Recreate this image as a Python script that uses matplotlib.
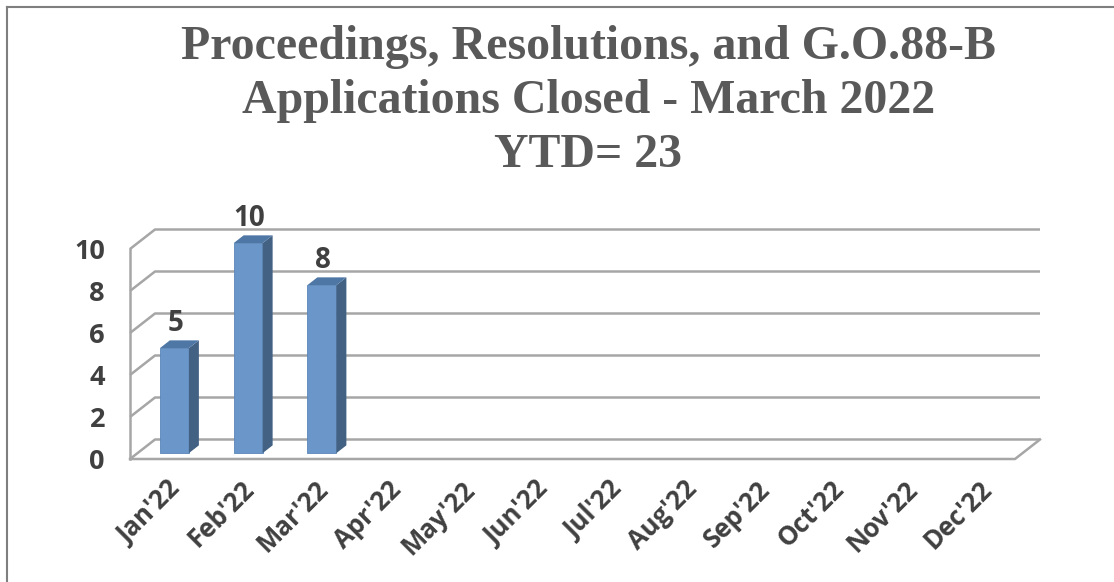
import numpy as np
import matplotlib.pyplot as plt
import matplotlib.transforms as mtransforms
from matplotlib.patches import Polygon
from matplotlib.lines import Line2D

# Monthly closed counts
months = ["Jan'22", "Feb'22", "Mar'22", "Apr'22", "May'22", "Jun'22",
          "Jul'22", "Aug'22", "Sep'22", "Oct'22", "Nov'22", "Dec'22"]
closed = [5, 10, 8]
y_ticks = [0, 2, 4, 6, 8, 10]
title_lines = ["Proceedings, Resolutions, and G.O.88-B",
               "Applications Closed - March 2022",
               "YTD= 23"]

W, H = 1114, 582
fig = plt.figure(figsize=(W / 100, H / 100), dpi=100)

# plot box (front face of the pseudo-3D floor/wall) in pixels
x0_px, x1_px = 130, 1015
y0_px, y1_px = 459, 249
ax = fig.add_axes([x0_px / W, 1 - y0_px / H, (x1_px - x0_px) / W, (y0_px - y1_px) / H])
n = len(months)
ax.set_xlim(-0.5, n - 0.5)
ax.set_ylim(0, 10)

px_x = n / (x1_px - x0_px)     # data units per pixel, x
px_y = 10 / (y0_px - y1_px)    # data units per pixel, y
ddx = 25 * px_x                # depth offset
ddy = 19.5 * px_y

grid_c = '#a6a6a6'
glw = 1.8
xl, xr = -0.5, n - 0.5

# left wall + back wall gridlines
for v in y_ticks:
    ax.plot([xl, xl + ddx, xr + ddx], [v, v + ddy, v + ddy],
            color=grid_c, lw=glw, clip_on=False, solid_capstyle='butt')
# floor front edge, right edge, left vertical edge
ax.plot([xl, xr, xr + ddx], [0, 0, ddy], color=grid_c, lw=glw, clip_on=False)
ax.plot([xl, xl], [0, 10], color=grid_c, lw=glw, clip_on=False)

lab_font = 'Open Sans'
lab_c = '#404040'

# bars: front face at 30% depth, 40% deep
f0, fd = 0.3, 0.4
bw = 29 * px_x
front_c, side_c, top_c = '#6a96c9', '#426183', '#4e77a6'
xs = np.arange(len(closed)) + f0 * ddx
base = f0 * ddy
bars = ax.bar(xs, closed, width=bw, bottom=base, color=front_c,
              edgecolor='#5a86b8', linewidth=0.6, zorder=3)
for b in bars:
    b.set_clip_on(False)
for x, v in zip(xs, closed):
    xr_b = x + bw / 2
    xl_b = x - bw / 2
    top = base + v
    ox, oy = fd * ddx, fd * ddy
    ax.add_patch(Polygon([(xr_b, base), (xr_b, top), (xr_b + ox, top + oy), (xr_b + ox, base + oy)],
                         closed=True, facecolor=side_c, edgecolor='none', zorder=3, clip_on=False))
    ax.add_patch(Polygon([(xl_b, top), (xr_b, top), (xr_b + ox, top + oy), (xl_b + ox, top + oy)],
                         closed=True, facecolor=top_c, edgecolor='none', zorder=3, clip_on=False))
    ax.text(x + ox / 2 - 0.05, top + oy + 0.78, str(v), ha='center', va='center',
            fontsize=20, fontweight='bold', color=lab_c, family=lab_font)

# axis labels
ax.set_xticks(np.arange(n))
ax.set_xticklabels(months, rotation=45, ha='right', rotation_mode='anchor',
                   fontsize=18.5, fontweight='bold', color=lab_c, family=lab_font)
shift = mtransforms.ScaledTranslation(-6 / 100, -4 / 100, fig.dpi_scale_trans)
for lab in ax.get_xticklabels():
    lab.set_transform(lab.get_transform() + shift)
ax.set_yticks(y_ticks)
ax.set_yticklabels([str(v) for v in y_ticks], fontsize=19.5, fontweight='bold',
                   color=lab_c, family=lab_font)
ax.tick_params(axis='x', length=0, pad=12)
ax.tick_params(axis='y', length=0, pad=18)
for s in ax.spines.values():
    s.set_visible(False)
ax.set_facecolor('none')

# title
for i, line in enumerate(title_lines):
    fig.text(0.528, 1 - (47 + 54 * i) / H, line, ha='center', va='center',
             fontsize=34.5, fontweight='bold', color='#595959', family='Liberation Serif')

# chart frame
fig.add_artist(Line2D([7 / W, 7 / W], [0, 1 - 7 / H], color='#7f7f7f', lw=1.5))
fig.add_artist(Line2D([7 / W, 1], [1 - 7 / H, 1 - 7 / H], color='#7f7f7f', lw=1.5))

fig.savefig('out.png', dpi=100)
